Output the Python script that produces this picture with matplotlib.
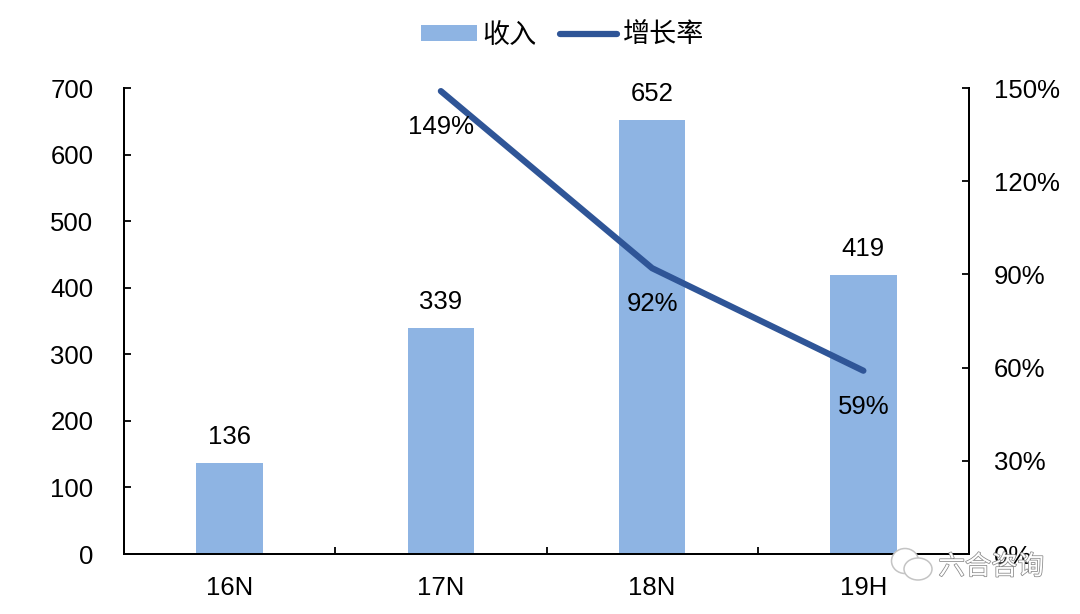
import matplotlib
matplotlib.use('Agg')
import matplotlib.pyplot as plt
import matplotlib.patheffects as pe
from matplotlib.patches import Ellipse

plt.rcParams['font.family'] = ['Liberation Sans', 'Noto Sans CJK SC', 'DejaVu Sans']

periodos = ['16N', '17N', '18N', '19H']
ingresos = [136, 339, 652, 419]
crecimiento = [149, 92, 59]
pos_crec = [1, 2, 3]
etiquetas_crec = ['149%', '92%', '59%']
ticks_izq = [0, 100, 200, 300, 400, 500, 600, 700]
ticks_der = [0, 30, 60, 90, 120, 150]
azul_barra = '#8EB4E3'
azul_linea = '#2F5597'

fig = plt.figure(figsize=(10.8, 6.14), dpi=100)
ax = fig.add_axes([124 / 1080, 1 - 554 / 614, (969 - 124) / 1080, (554 - 88) / 614])
x = list(range(len(periodos)))
barras = ax.bar(x, ingresos, width=0.315, color=azul_barra, label='收入')
ax.set_xlim(-0.5, 3.5)
ax.set_ylim(0, 700)
ax.set_yticks(ticks_izq)
ax.set_xticks([-0.5, 0.5, 1.5, 2.5, 3.5])
ax.set_xticklabels([])
ax.set_xticks(x, minor=True)
ax.set_xticklabels(periodos, minor=True)
ax.tick_params(axis='x', which='minor', length=0, labelsize=18.5, pad=16)
ax.tick_params(axis='x', which='major', length=5, direction='in', width=1.3)
ax.tick_params(axis='y', length=5, direction='in', labelsize=18.5, pad=22, width=1.3)
for i, v in zip(x, ingresos):
    ax.annotate(str(v), (i, v), xytext=(0, 19), textcoords='offset points', ha='center', va='center', fontsize=18.5)

ax2 = ax.twinx()
ax2.set_ylim(0, 150)
ax2.set_yticks(ticks_der)
ax2.set_yticklabels([str(t) + '%' for t in ticks_der])
ax2.tick_params(axis='y', length=5, direction='in', labelsize=18.5, pad=18, width=1.3)
linea, = ax2.plot(pos_crec, crecimiento, color=azul_linea, lw=4.5, label='增长率', solid_capstyle='round')
for i, v, et in zip(pos_crec, crecimiento, etiquetas_crec):
    ax2.annotate(et, (i, v), xytext=(0, -26), textcoords='offset points', ha='center', va='center', fontsize=18.5)

for a in (ax, ax2):
    a.spines['top'].set_visible(False)
    for lado in ('left', 'right', 'bottom'):
        a.spines[lado].set_linewidth(1.4)

fig.legend(handles=[barras, linea], loc='upper center', bbox_to_anchor=(0.5205, 1.003), ncol=2,
           frameon=False, fontsize=19.5, handlelength=2.1, handleheight=0.56, columnspacing=0.85, handletextpad=0.2)

# marca de agua
for cx, cy, w, h in [(905, 561, 27, 25), (918, 569, 28, 22)]:
    fig.add_artist(Ellipse((cx / 1080, 1 - cy / 614), w / 1080, h / 614, transform=fig.transFigure,
                           facecolor='white', edgecolor='#c4c4c4', lw=1.1))
fig.text(1044 / 1080, 1 - 567 / 614, '六合咨询', ha='right', va='center', fontsize=19, color='white',
         path_effects=[pe.withStroke(linewidth=1.1, foreground='#888888')])

fig.savefig('out.png', dpi=100)
